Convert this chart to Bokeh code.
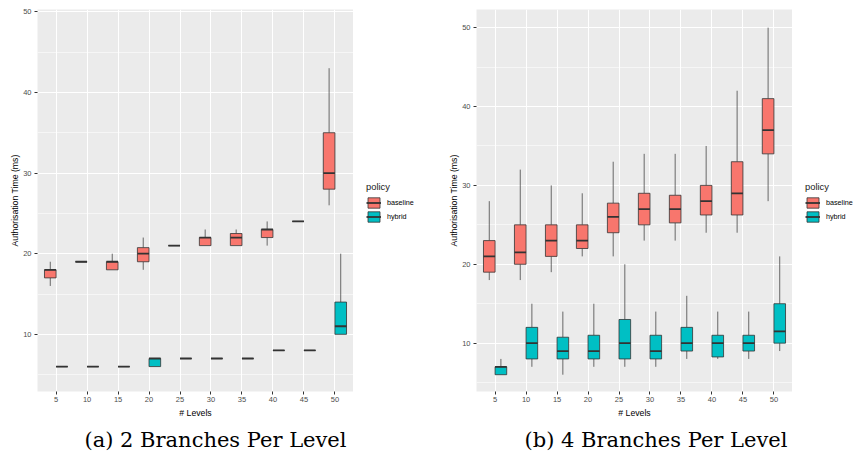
from bokeh.plotting import figure
from bokeh.models import (FactorRange, Range1d, SingleIntervalTicker, Legend, LegendItem,
                          Title, ColumnDataSource)
from bokeh.layouts import row
from bokeh.transform import dodge
from bokeh.embed import file_html
from bokeh.resources import INLINE

levels = ["5", "10", "15", "20", "25", "30", "35", "40", "45", "50"]

# (a) 2 branches per level
a_base_lo = [16, 19, 18, 18, 21, 21, 21, 21, 24, 26]
a_base_q1 = [17, 19, 18, 19, 21, 21, 21, 22, 24, 28]
a_base_med = [18, 19, 19, 20, 21, 22, 22, 23, 24, 30]
a_base_q3 = [18, 19, 19, 20.75, 21, 22, 22.5, 23, 24, 35]
a_base_hi = [19, 19, 20, 22, 21, 23, 23, 24, 24, 43]

a_hyb_lo = [6, 6, 6, 6, 7, 7, 7, 8, 8, 10]
a_hyb_q1 = [6, 6, 6, 6, 7, 7, 7, 8, 8, 10]
a_hyb_med = [6, 6, 6, 7, 7, 7, 7, 8, 8, 11]
a_hyb_q3 = [6, 6, 6, 7, 7, 7, 7, 8, 8, 14]
a_hyb_hi = [6, 6, 6, 7, 7, 7, 7, 8, 8, 20]

# (b) 4 branches per level
b_base_lo = [18, 18, 19, 21, 21, 23, 23, 24, 24, 28]
b_base_q1 = [19, 20, 21, 22, 24, 25, 25.25, 26.25, 26.25, 34]
b_base_med = [21, 21.5, 23, 23, 26, 27, 27, 28, 29, 37]
b_base_q3 = [23, 25, 25, 25, 27.75, 29, 28.75, 30, 33, 41]
b_base_hi = [28, 32, 30, 29, 33, 34, 34, 35, 42, 50]

b_hyb_lo = [6, 7, 6, 7, 7, 7, 8, 8, 8, 9]
b_hyb_q1 = [6, 8, 8, 8, 8, 8, 9, 8.25, 9, 10]
b_hyb_med = [7, 10, 9, 9, 10, 9, 10, 10, 10, 11.5]
b_hyb_q3 = [7, 12, 10.75, 11, 13, 11, 12, 11, 11, 15]
b_hyb_hi = [8, 15, 14, 15, 20, 14, 16, 14, 14, 21]

policies = ["baseline", "hybrid"]
colors = ["#F8766D", "#00BFC4"]

FONT = "Liberation Sans"
W = 0.375
H = 457
FW = 316


def boxes(p, lo, q1, med, q3, hi, offset, color):
    src = ColumnDataSource(dict(lvl=levels, lo=lo, q1=q1, med=med, q3=q3, hi=hi))
    xc = dodge("lvl", offset, range=p.x_range)
    p.segment(x0=xc, y0="lo", x1=xc, y1="q1", source=src, line_color="#333333", line_width=0.9, line_alpha=0.8)
    p.segment(x0=xc, y0="q3", x1=xc, y1="hi", source=src, line_color="#333333", line_width=0.9, line_alpha=0.8)
    p.vbar(x=xc, width=W, bottom="q1", top="q3", source=src, fill_color=color,
           line_color="#333333", line_width=0.8)
    p.segment(x0=dodge("lvl", offset - W / 2, range=p.x_range), y0="med",
              x1=dodge("lvl", offset + W / 2, range=p.x_range), y1="med",
              source=src, line_color="#333333", line_width=1.8)


def panel(caption, base, hyb, y0, y1, bl, cap_offset):
    p = figure(width=bl + FW, height=H,
               x_range=FactorRange(factors=levels, range_padding=0.1, range_padding_units="absolute"),
               y_range=Range1d(y0, y1),
               output_backend="svg", toolbar_location=None,
               min_border_left=bl, min_border_right=0, min_border_top=9, min_border_bottom=65)
    p.background_fill_color = "#EBEBEB"
    p.border_fill_color = "white"
    p.outline_line_color = None

    p.xgrid.grid_line_color = "white"
    p.xgrid.grid_line_width = 1.1
    p.ygrid.grid_line_color = "white"
    p.ygrid.grid_line_width = 1.1
    p.ygrid.minor_grid_line_color = "white"
    p.ygrid.minor_grid_line_width = 0.55
    p.yaxis.ticker = SingleIntervalTicker(interval=10, num_minor_ticks=2)

    for ax in (p.xaxis[0], p.yaxis[0]):
        ax.axis_line_color = None
        ax.major_tick_line_color = "#333333"
        ax.major_tick_line_width = 1
        ax.major_tick_in = 0
        ax.major_tick_out = 3
        ax.minor_tick_line_color = None
        ax.major_label_text_font = FONT
        ax.major_label_text_font_size = "7.5px"
        ax.major_label_text_color = "#4D4D4D"
        ax.axis_label_text_font = FONT
        ax.axis_label_text_font_size = "8.7px"
        ax.axis_label_text_font_style = "normal"
        ax.axis_label_text_color = "black"
    p.xaxis.axis_label = "# Levels"
    p.yaxis.axis_label = "Authorisation Time (ms)"
    p.xaxis.major_label_standoff = 2
    p.yaxis.major_label_standoff = 2
    p.xaxis.axis_label_standoff = 3
    p.yaxis.axis_label_standoff = 0

    boxes(p, *base, -W / 2, colors[0])
    boxes(p, *hyb, W / 2, colors[1])

    cap = Title(text=caption, align="left", offset=cap_offset, standoff=11,
                text_font="DejaVu Serif", text_font_size="21px",
                text_font_style="normal", text_color="black")
    p.add_layout(cap, "below")
    return p


def legend_panel(width):
    q = figure(width=width, height=H, x_range=Range1d(0, 1), y_range=Range1d(0, 1),
               output_backend="svg", toolbar_location=None,
               min_border_left=0, min_border_right=0, min_border_top=9, min_border_bottom=65)
    q.axis.visible = False
    q.grid.visible = False
    q.outline_line_color = None
    q.background_fill_color = "white"
    items = []
    for name, col in zip(policies, colors):
        src = ColumnDataSource(dict(x=[0.5], lo=[0.4], mid=[0.5], hi=[0.6]))
        bx = q.vbar(x="x", top="hi", bottom="lo", width=0.5, source=src, fill_color=col,
                    line_color="#333333", line_width=0.8, visible=False)
        md = q.segment(x0="x", y0="mid", x1="x", y1="mid", source=src,
                       line_color="#333333", line_width=1.8, visible=False)
        items.append(LegendItem(label=name, renderers=[bx, md]))
    leg = Legend(items=items, location=(13, 168.5), title="policy")
    leg.margin = 0
    leg.padding = 0
    leg.spacing = 1
    leg.glyph_width = 15
    leg.glyph_height = 13
    leg.label_standoff = 6
    leg.label_height = 13
    leg.label_text_font = FONT
    leg.label_text_font_size = "7.2px"
    leg.label_text_color = "black"
    leg.title_text_font = FONT
    leg.title_text_font_size = "9.4px"
    leg.title_text_font_style = "normal"
    leg.title_text_color = "#1A1A1A"
    leg.title_standoff = 4
    leg.background_fill_alpha = 0
    leg.border_line_alpha = 0
    leg.inactive_fill_alpha = 0
    q.add_layout(leg)
    return q


p1 = panel("(a) 2 Branches Per Level",
           (a_base_lo, a_base_q1, a_base_med, a_base_q3, a_base_hi),
           (a_hyb_lo, a_hyb_q1, a_hyb_med, a_hyb_q3, a_hyb_hi),
           2.91, 50.28, 37, 47)
l1 = legend_panel(77)
p2 = panel("(b) 4 Branches Per Level",
           (b_base_lo, b_base_q1, b_base_med, b_base_q3, b_base_hi),
           (b_hyb_lo, b_hyb_q1, b_hyb_med, b_hyb_q3, b_hyb_hi),
           3.87, 52.3, 46, 48)
l2 = legend_panel(62)

layout = row(p1, l1, p2, l2, spacing=0)
open("out.html", "w").write(file_html(layout, INLINE))
